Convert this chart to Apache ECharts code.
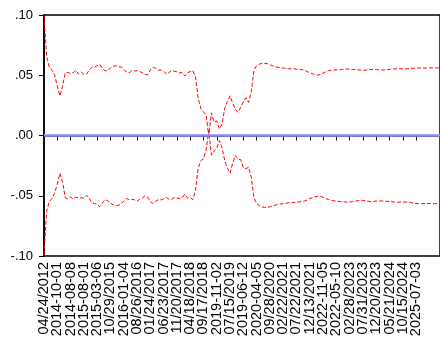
<!DOCTYPE html>
<html>
<head>
<meta charset="utf-8">
<script src="https://cdn.jsdelivr.net/npm/echarts@6/dist/echarts.min.js"></script>
<style>
  html, body { margin: 0; padding: 0; background: #fff; }
  #chart { width: 440px; height: 341px; }
</style>
</head>
<body>
<div id="chart"></div>
<script>
// Tick labels along the x axis (one every 5 samples)
const tickLabels = [
  "04/24/2012", "2014-10-01", "2014-08-08", "2015-08-01", "2015-03-06",
  "10/29/2015", "2016-01-04", "08/26/2016", "01/24/2017", "06/23/2017",
  "11/20/2017", "04/18/2018", "09/17/2018", "2019-11-02", "07/15/2019",
  "2019-06-12", "2020-04-05", "09/28/2020", "02/22/2021", "07/22/2021",
  "12/13/2021", "2022-11-05", "2022-05-10", "02/28/2023", "07/31/2023",
  "12/20/2023", "05/21/2024", "10/15/2024", "2025-07-03", "2025-07-08"
];
const samplesPerTick = 5;

// Upper band (red dashed)
const upperBand = [
  0.0996, 0.0654, 0.0568, 0.0541, 0.0503, 0.0408, 0.0329, 0.0413, 0.0519, 0.0523,
  0.0513, 0.0521, 0.0540, 0.0511, 0.0527, 0.0508, 0.0509, 0.0541, 0.0568, 0.0568,
  0.0579, 0.0590, 0.0555, 0.0537, 0.0538, 0.0562, 0.0575, 0.0578, 0.0569, 0.0569,
  0.0551, 0.0527, 0.0519, 0.0538, 0.0536, 0.0538, 0.0532, 0.0521, 0.0507, 0.0503,
  0.0544, 0.0568, 0.0557, 0.0543, 0.0543, 0.0533, 0.0510, 0.0522, 0.0541, 0.0533,
  0.0529, 0.0519, 0.0522, 0.0493, 0.0520, 0.0531, 0.0538, 0.0488, 0.0313, 0.0225,
  0.0196, 0.0171, -0.0004, 0.0188, 0.0113, 0.0121, 0.0054, 0.0096, 0.0225, 0.0283,
  0.0329, 0.0267, 0.0217, 0.0192, 0.0233, 0.0279, 0.0313, 0.0275, 0.0363, 0.0542,
  0.0579, 0.0592, 0.0598, 0.0599, 0.0596, 0.0588, 0.0579, 0.0571, 0.0566, 0.0563,
  0.0559, 0.0557, 0.0554, 0.0553, 0.0553, 0.0551, 0.0549, 0.0547, 0.0542, 0.0531,
  0.0521, 0.0513, 0.0506, 0.0500, 0.0506, 0.0518, 0.0529, 0.0538, 0.0541, 0.0543,
  0.0544, 0.0545, 0.0548, 0.0550, 0.0552, 0.0550, 0.0548, 0.0548, 0.0546, 0.0542,
  0.0538, 0.0543, 0.0546, 0.0548, 0.0548, 0.0547, 0.0544, 0.0543, 0.0545, 0.0546,
  0.0548, 0.0551, 0.0553, 0.0553, 0.0554, 0.0553, 0.0552, 0.0553, 0.0556, 0.0558,
  0.0558, 0.0560, 0.0560, 0.0560, 0.0560, 0.0561, 0.0561, 0.0560, 0.0561, 0.0561
];

// Lower band (red dashed)
const lowerBand = [
  -0.0988, -0.0629, -0.0549, -0.0523, -0.0479, -0.0403, -0.0313, -0.0388, -0.0517, -0.0526,
  -0.0511, -0.0527, -0.0513, -0.0518, -0.0517, -0.0520, -0.0495, -0.0522, -0.0558, -0.0564,
  -0.0571, -0.0591, -0.0560, -0.0532, -0.0542, -0.0563, -0.0575, -0.0583, -0.0579, -0.0568,
  -0.0544, -0.0523, -0.0531, -0.0530, -0.0533, -0.0546, -0.0529, -0.0519, -0.0500, -0.0513,
  -0.0549, -0.0564, -0.0546, -0.0533, -0.0534, -0.0525, -0.0513, -0.0529, -0.0529, -0.0514,
  -0.0520, -0.0523, -0.0516, -0.0486, -0.0518, -0.0516, -0.0532, -0.0454, -0.0271, -0.0209,
  -0.0192, -0.0121, 0.0038, -0.0163, -0.0129, -0.0107, -0.0042, -0.0104, -0.0208, -0.0271,
  -0.0313, -0.0229, -0.0167, -0.0196, -0.0200, -0.0267, -0.0275, -0.0263, -0.0346, -0.0517,
  -0.0565, -0.0583, -0.0593, -0.0596, -0.0598, -0.0592, -0.0585, -0.0578, -0.0573, -0.0569,
  -0.0566, -0.0563, -0.0559, -0.0558, -0.0556, -0.0553, -0.0551, -0.0548, -0.0544, -0.0535,
  -0.0523, -0.0516, -0.0509, -0.0504, -0.0504, -0.0514, -0.0523, -0.0531, -0.0538, -0.0542,
  -0.0545, -0.0548, -0.0550, -0.0552, -0.0552, -0.0552, -0.0549, -0.0545, -0.0541, -0.0537,
  -0.0538, -0.0543, -0.0546, -0.0548, -0.0547, -0.0544, -0.0543, -0.0543, -0.0544, -0.0546,
  -0.0548, -0.0550, -0.0553, -0.0554, -0.0553, -0.0552, -0.0552, -0.0552, -0.0556, -0.0562,
  -0.0563, -0.0565, -0.0565, -0.0565, -0.0565, -0.0564, -0.0565, -0.0566, -0.0565, -0.0565
];

// Reference line level
const zeroLevel = 0;

// Category lists. The main axis carries every tick label except the first;
// a companion axis carries only the first one (avoids ECharts' min-label overlap hiding).
const labelAt = i => (i % samplesPerTick === 0 && tickLabels[i / samplesPerTick] !== undefined) ? tickLabels[i / samplesPerTick] : '';
const categoriesMain = upperBand.map((_, i) => i === 0 ? '' : labelAt(i));
const categoriesFirst = upperBand.map((_, i) => i === 0 ? labelAt(0) : '');

const fmtY = v => {
  const s = Math.abs(v).toFixed(2).replace(/^0/, '');
  return (v < -1e-9 ? '-' : '') + s;
};

const labelStyle = {
  interval: samplesPerTick - 1, rotate: 90, margin: 6,
  fontFamily: 'Liberation Sans, Arial, sans-serif', fontSize: 14.5, color: '#000'
};

const chart = echarts.init(document.getElementById('chart'), null, { renderer: 'canvas' });
chart.setOption({
  animation: false,
  backgroundColor: '#ffffff',
  grid: {
    left: 44, top: 15, width: 411, height: 241,
    show: true, borderColor: '#000', borderWidth: 1.5, backgroundColor: 'transparent'
  },
  xAxis: [
    {
      type: 'category',
      data: categoriesMain,
      boundaryGap: false,
      position: 'bottom',
      axisLine: { lineStyle: { color: '#000', width: 1.5 } },
      axisTick: { show: true, interval: samplesPerTick - 1, length: 5, inside: false, lineStyle: { color: '#000', width: 1 } },
      axisLabel: Object.assign({}, labelStyle),
      splitLine: { show: false }
    },
    {
      type: 'category',
      data: categoriesFirst,
      boundaryGap: false,
      position: 'bottom',
      offset: 0,
      axisLine: { show: false },
      axisTick: { show: false },
      axisLabel: Object.assign({}, labelStyle, { showMinLabel: true }),
      splitLine: { show: false }
    }
  ],
  yAxis: {
    type: 'value',
    min: -0.1, max: 0.1, interval: 0.05,
    axisLine: { show: true, lineStyle: { color: '#000', width: 1.5 } },
    axisTick: { show: true, length: 5, inside: false, lineStyle: { color: '#000', width: 1 } },
    axisLabel: {
      formatter: fmtY, margin: 11,
      showMinLabel: true, showMaxLabel: true,
      fontFamily: 'Liberation Sans, Arial, sans-serif', fontSize: 13, color: '#000'
    },
    splitLine: { show: false }
  },
  series: [
    {
      type: 'line', data: upperBand, symbol: 'none', z: 3,
      lineStyle: { color: '#ff0000', width: 1, type: [4, 2] },
      markLine: {
        silent: true, symbol: ['none', 'none'], label: { show: false },
        emphasis: { disabled: true },
        lineStyle: { color: '#8a8aff', width: 2.5, type: 'solid', opacity: 1 },
        data: [{ yAxis: zeroLevel }]
      }
    },
    {
      type: 'line', data: lowerBand, symbol: 'none', z: 3,
      lineStyle: { color: '#ff0000', width: 1, type: [4, 2] }
    }
  ]
});
</script>
</body>
</html>
